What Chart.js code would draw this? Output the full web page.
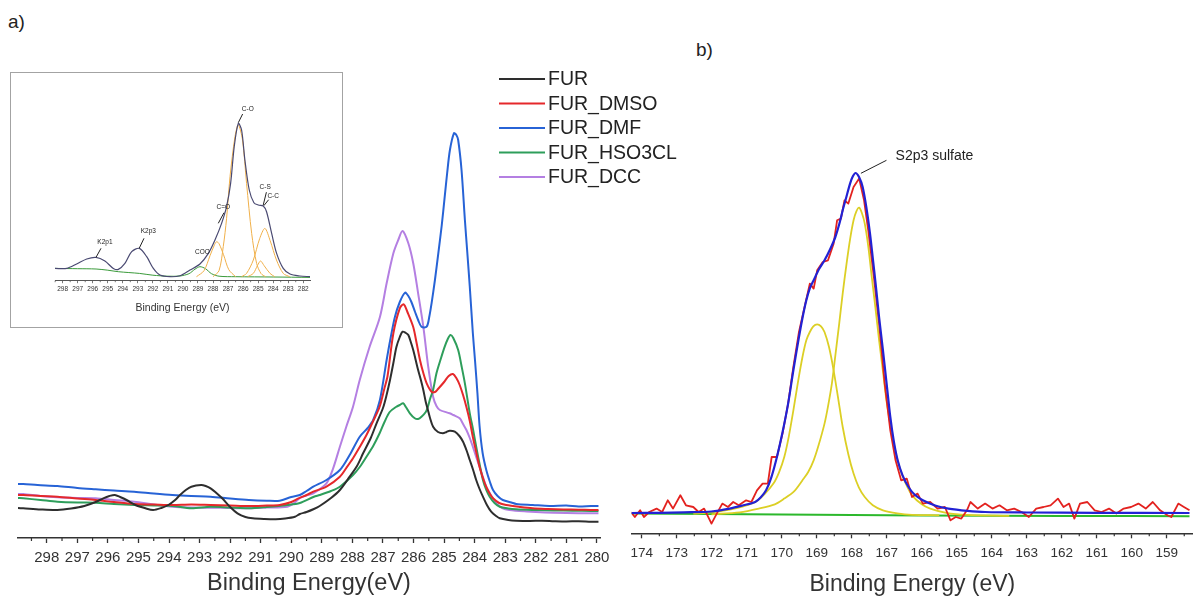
<!DOCTYPE html>
<html>
<head>
<meta charset="utf-8">
<script src="https://cdn.jsdelivr.net/npm/chart.js@4.4.1/dist/chart.umd.min.js"></script>
<style>
  body { margin: 0; background: #fff; }
  #wrap { position: relative; width: 1193px; height: 602px; overflow: hidden; background: #fff;
          font-family: "Liberation Sans", Arial, sans-serif; }
  canvas { position: absolute; }
  .tag { position: absolute; font-size: 19px; color: #222; }
  #insetBox { position: absolute; left: 10px; top: 72px; width: 333px; height: 256px;
              box-sizing: border-box; border: 1.3px solid #a3a3a3; background: #fff; }
</style>
</head>
<body>
<div id="wrap">
  <div class="tag" style="left:8px;top:11px">a)</div>
  <div class="tag" style="left:696px;top:39px">b)</div>
  <canvas id="chartA" width="700" height="602" style="left:0;top:0"></canvas>
  <canvas id="chartB" width="593" height="602" style="left:600px;top:0"></canvas>
  <div id="insetBox"></div>
  <canvas id="inset" width="333" height="256" style="left:10px;top:72px"></canvas>
</div>
<script>
// ---------- panel a : C1s of the five samples, [binding energy, intensity] ----------
const ticksA = [298, 297, 296, 295, 294, 293, 292, 291, 290, 289, 288, 287, 286, 285, 284, 283, 282, 281, 280];

const FUR = [[298.94,30],[298.77,29.7],[298.2,28.5],[297.65,28],[297.2,29.5],[296.77,32],[296.4,36],[296.15,39.7],
  [295.95,42],[295.77,43],[295.6,41],[295.39,38],[295.1,33],[294.77,29.7],[294.52,28],[294.25,30],[294.02,33],
  [293.8,38],[293.64,43],[293.45,48],[293.27,51.3],[292.95,53],[292.8,52],[292.64,49.7],[292.45,45],[292.26,39.7],
  [292.0,31],[291.76,24.7],[291.5,21],[291.26,19.7],[290.9,19],[290.51,18.7],[290.2,19.5],[289.88,21.3],[289.72,24],
  [289.5,26],[289.26,29],[289.07,32],[288.7,40],[288.41,48],[288.09,61.3],[287.85,72],[287.65,84.7],[287.4,100],
  [287.21,114.7],[287.0,130],[286.89,142],[286.77,158],[286.66,175],[286.56,191],[286.45,201],[286.36,206.3],
  [286.25,205],[286.17,203],[286.09,196],[286.01,188],[285.93,178],[285.85,168],[285.76,158],[285.68,148],
  [285.6,136],[285.53,128],[285.47,121],[285.36,111.3],[285.2,106],[285.04,104.7],[284.92,106],[284.82,107.3],
  [284.65,106.3],[284.5,102],[284.38,96.3],[284.27,88],[284.16,78],[284.05,68],[283.95,58],[283.84,49],
  [283.73,41.3],[283.6,33],[283.46,26.3],[283.3,22],[283.18,19.7],[282.9,18],[282.64,17.3],[282.2,17],
  [281.8,17.3],[281.4,16.8],[281.0,16.5],[280.6,16.8],[280.19,16.3],[279.95,16.3]];

const FUR_DMSO = [[298.94,43],[298.77,43],[298.2,42],[297.65,41.3],[297.0,39.5],[296.4,38],[295.8,36],[295.14,34],
  [294.5,33.5],[293.89,33],[293.27,33.5],[292.64,33],[292.0,32.5],[291.39,32],[290.8,32.5],[290.38,33],[290.0,36],
  [289.76,39.7],[289.5,43],[289.28,46.3],[288.85,51.3],[288.41,61.3],[288.2,70],[287.98,79.7],[287.76,91],
  [287.54,103],[287.32,117],[287.11,131.3],[286.95,150],[286.85,162],[286.66,204.7],[286.45,229.7],[286.32,233.7],
  [286.2,226],[286.01,211],[285.9,195],[285.79,178],[285.68,165],[285.57,154.7],[285.41,146.3],[285.3,146],
  [285.2,149],[285.0,156],[284.85,162],[284.71,164],[284.6,160],[284.49,153],[284.38,143],[284.27,131],
  [284.16,117],[284.06,101],[283.95,86],[283.84,71],[283.73,60],[283.62,51],[283.5,44],[283.4,39.7],[283.2,35],
  [282.97,33],[282.5,31],[282.1,29.7],[281.6,29],[281.1,28.5],[280.6,28.3],[280.19,28],[279.95,28]];

const FUR_DMF = [[298.94,54],[298.77,54],[298.3,53],[297.65,52],[297.0,50],[296.4,48.7],[295.8,47.5],[295.14,46.3],
  [294.5,44.5],[293.89,43],[293.27,42],[292.64,41.3],[292.0,39.5],[291.39,38],[290.8,37.3],[290.38,37.3],[290.0,41],
  [289.72,43],[289.5,47],[289.28,51.3],[288.85,58],[288.41,68],[288.09,83],[287.76,101.3],[287.5,110],[287.32,118],
  [287.1,138],[286.88,178],[286.75,200],[286.61,221],[286.45,236],[286.28,245.3],[286.17,242],[286.07,236],
  [285.95,226],[285.85,218],[285.74,211.3],[285.57,211.3],[285.48,222],[285.41,234.7],[285.3,258],[285.19,284.7],
  [285.08,312],[284.98,341.3],[284.9,365],[284.81,388],[284.68,404.7],[284.6,403],[284.54,398],[284.43,368],
  [284.32,318],[284.24,285],[284.16,251.3],[284.06,205],[283.99,178],[283.91,145],[283.84,112],[283.74,85],
  [283.62,68],[283.5,56],[283.4,48],[283.25,42],[283.08,38],[282.8,35.5],[282.64,34],[282.1,33],[281.55,32],
  [281.0,32.5],[280.6,31.5],[280.19,32],[279.95,32]];

const FUR_HSO3CL = [[298.94,40],[298.77,39.7],[298.2,38],[297.65,36.3],[297.0,35.5],[296.4,35.3],[295.8,34],
  [295.14,33],[294.5,32.5],[293.89,32],[293.27,29.7],[292.64,31.3],[292.0,30.5],[291.39,29.7],[290.8,31],
  [290.13,33],[289.72,35],[289.26,41.3],[289.07,43],[288.7,47],[288.41,51.3],[287.98,63],[287.76,71],[287.54,81.3],
  [287.32,92],[287.11,104.7],[286.95,116],[286.78,126],[286.56,131.3],[286.45,133],[286.34,134.7],[286.25,131],
  [286.12,124.7],[285.96,119.7],[285.85,119],[285.74,121.3],[285.6,126],[285.53,131.3],[285.45,140],[285.36,148],
  [285.25,164.7],[285.1,180],[284.98,191.3],[284.88,199],[284.79,203],[284.7,200],[284.54,188],[284.43,172],
  [284.32,154.7],[284.16,124.7],[284.05,108],[283.95,91.3],[283.84,74],[283.73,58],[283.62,48],[283.51,41.3],
  [283.35,35],[283.18,31.3],[282.9,29.5],[282.64,28.7],[282.0,28],[281.4,27.5],[280.8,27.3],[280.19,27],[279.95,27]];

const FUR_DCC = [[298.94,44],[298.77,44],[298.2,42],[297.65,40.7],[297.0,40],[296.4,39.7],[295.8,38],[295.14,36.3],
  [294.5,33.5],[293.89,31.3],[293.27,30.5],[292.64,30.3],[292.0,30],[291.39,29.7],[290.8,30.5],[290.13,31.3],
  [289.9,35],[289.72,40],[289.5,42.5],[289.28,44.7],[288.85,54.7],[288.63,69.7],[288.41,91.3],[288.2,111.3],
  [287.98,131.3],[287.76,158],[287.45,190],[287.1,221],[286.88,254.7],[286.66,284.7],[286.5,298],[286.36,307],
  [286.17,294.7],[286.01,274.7],[285.85,244.7],[285.68,211.3],[285.52,171.3],[285.36,141.3],[285.25,132],
  [285.14,128],[284.82,124.7],[284.7,123],[284.49,119.7],[284.38,114],[284.27,108],[284.16,100],[284.06,91.3],
  [283.95,81],[283.84,71.3],[283.73,61],[283.62,51.3],[283.45,42],[283.29,34.7],[283.1,30],[282.86,28],
  [282.3,26.5],[281.7,25.5],[281.0,25],[280.19,24.7],[279.95,24.7]];

// ---------- inset : fitted C1s / K2p ----------
const ticksInset = [298, 297, 296, 295, 294, 293, 292, 291, 290, 289, 288, 287, 286, 285, 284, 283, 282];

const insetEnvelope = [[298.51,12.3],[297.73,12.3],[297.07,16.7],[296.4,21.7],[295.78,23.3],[295.19,19.7],
  [294.63,12.3],[294.3,11.3],[293.86,17.3],[293.41,29],[292.9,32.3],[292.41,24],[291.97,12.3],[291.53,5.7],
  [290.86,4],[290.2,5],[289.53,10.7],[288.87,16.7],[288.31,27.3],[287.87,40.7],[287.43,57.3],[287.1,74],
  [286.83,97.3],[286.59,134],[286.32,157.3],[286.1,150.7],[285.88,120.7],[285.59,90.7],[285.28,78],[284.99,75.7],
  [284.66,74.7],[284.44,69],[284.1,47.3],[283.77,27.3],[283.33,12.3],[282.88,6.7],[282.22,4.7],[281.55,4]];
const insetBackground = [[298.51,12.3],[297,12],[295.78,11.7],[295,10.5],[294.3,9],[292.9,7.3],[292,5.5],[291,4.5],
  [290.2,4.7],[289.6,7],[289.2,11.5],[288.87,14],[288.5,12],[288.1,7],[287.6,4.5],[286.5,4],[284,3.7],[281.55,3.3]];
const insetCdO = [[289.1,4],[288.6,10],[288.2,25],[287.9,36],[287.76,39],[287.6,37],[287.3,26],[286.95,11],[286.5,4]];
const insetCO = [[288.0,4],[287.6,10],[287.32,34],[287.1,62],[286.87,104],[286.54,144],[286.32,155.7],[286.04,140.7],
  [285.77,97.3],[285.43,47.3],[285.1,17.3],[284.8,7],[284.5,4]];
const insetCC = [[286.1,4],[285.77,7.3],[285.32,20.7],[284.9,42],[284.55,52.3],[284.2,40],[283.78,20.7],[283.33,7.3],[282.9,4]];
const insetCS = [[285.7,4],[285.32,7.3],[285.05,15],[284.84,19.7],[284.6,15],[284.21,7.3],[283.9,4]];

// ---------- panel b : S2p ----------
const ticksB = [174, 173, 172, 171, 170, 169, 168, 167, 166, 165, 164, 163, 162, 161, 160, 159];

const s2pData = [[174.31,21.3],[174.2,16.3],[174.05,23],[173.94,16.3],[173.79,21.3],[173.58,24.7],[173.42,21.3],
  [173.26,33],[173.11,24.7],[172.9,38],[172.74,28],[172.53,26.3],[172.38,21.3],[172.22,24.7],[172.01,9.7],
  [171.86,19.7],[171.7,29.7],[171.54,26.3],[171.39,31.3],[171.23,28],[171.02,33],[170.87,31.3],[170.71,43],
  [170.55,49.7],[170.4,49.7],[170.29,76.3],[170.14,76.3],[169.98,99.7],[169.82,129.7],[169.67,166.3],
  [169.51,201.3],[169.35,226.3],[169.2,249.7],[169.09,244.7],[168.99,263],[168.83,271.3],[168.68,273],
  [168.52,289.7],[168.42,313],[168.31,314.7],[168.21,333],[168.1,329.7],[167.95,346.3],[167.79,354.7],
  [167.65,333],[167.53,303],[167.37,256.3],[167.22,209.7],[167.06,149.7],[166.9,103],[166.75,73],[166.59,53],
  [166.43,54.7],[166.28,36.3],[166.12,39.7],[165.97,29.7],[165.76,31.3],[165.55,24.7],[165.34,26.3],[165.18,13],
  [165.03,16.3],[164.87,14.7],[164.71,23],[164.61,31.3],[164.4,24.7],[164.19,29.7],[163.98,24.7],[163.78,28],
  [163.57,23],[163.36,24.7],[163.15,21.3],[162.94,16.3],[162.73,24.7],[162.52,26.3],[162.32,28],[162.11,34.7],
  [161.95,26.3],[161.79,29.7],[161.64,14.7],[161.48,29.7],[161.27,31.3],[161.06,23],[160.86,21.3],[160.65,24.7],
  [160.44,19.7],[160.23,24.7],[160.02,26.3],[159.81,29.7],[159.6,24.7],[159.4,31.3],[159.19,23],[158.98,18],
  [158.87,16.3],[158.67,29.7],[158.51,26.3],[158.35,23]];

const s2pFit = [[174.31,20.3],[173.5,20.5],[172.8,21],[172.01,21.8],[171.49,24.7],[171.1,28],[170.76,31.3],
  [170.6,36],[170.45,43],[170.3,56],[170.14,76.3],[169.98,101],[169.82,129.7],[169.67,163],[169.51,196.3],
  [169.4,217],[169.3,233],[169.2,245],[169.09,253],[168.94,264],[168.78,273],[168.62,284],[168.47,296.3],
  [168.36,309],[168.26,323],[168.15,337],[168.05,349.7],[167.97,357],[167.89,360.3],[167.79,356],[167.69,346.3],
  [167.58,325],[167.48,299.7],[167.4,275],[167.32,249.7],[167.22,216],[167.11,183],[167.0,148],[166.9,116.3],
  [166.8,92],[166.69,73],[166.55,58],[166.38,46.3],[166.2,38.5],[165.97,33],[165.6,27.5],[165.24,24.7],
  [164.7,22.5],[164.19,21.3],[163,20.8],[161,20.5],[158.35,20.3]];

const s2pPeak1 = [[172.01,19],[171.2,21],[170.66,24.7],[170.2,29],[169.93,34.7],[169.65,42],[169.41,53],[169.25,61],
  [169.09,73],[168.95,88],[168.78,109.7],[168.68,127],[168.57,149.7],[168.47,178],[168.36,209.7],[168.26,240],
  [168.15,269.7],[168.05,294],[167.95,313],[167.87,322],[167.79,325.7],[167.71,320],[167.63,309.7],[167.53,287],
  [167.43,256.3],[167.32,224],[167.22,193],[167.11,162],[167.01,133],[166.9,109],[166.8,89.7],[166.67,70],
  [166.54,56.3],[166.4,45.5],[166.28,38],[166.0,29],[165.76,24.7],[165.3,20.5],[164.71,18.5],[163.5,17.5]];

const s2pPeak2 = [[172.53,19.7],[172.0,21],[171.49,23.7],[171.1,27],[170.76,31.3],[170.5,39],[170.24,49.7],
  [170.08,61],[169.93,76.3],[169.8,97],[169.67,123],[169.54,151],[169.41,176.3],[169.3,193],[169.2,201.3],
  [169.1,207],[168.99,209],[168.88,207],[168.78,201.3],[168.65,186],[168.52,163],[168.39,135],[168.26,106.3],
  [168.1,79],[167.95,59.7],[167.8,46],[167.63,36.3],[167.4,28],[167.11,23],[166.7,20],[166.28,18.5],[165.5,18]];

const s2pBase = [[174.31,19.7],[172,19.2],[170,18.8],[168,18.3],[166,17.9],[164,17.6],[162,17.4],[160,17.2],[158.35,17]];

// ---------- helpers ----------
Chart.defaults.font.family = '"Liberation Sans", Arial, Helvetica, sans-serif';
Chart.defaults.color = '#333';

const pts = arr => arr.map(([x, y]) => ({ x, y }));

function line(label, data, color, width, tension) {
  return { label, data: pts(data), borderColor: color, backgroundColor: color, borderWidth: width,
           pointRadius: 0, tension, fill: false, showLine: true, borderJoinStyle: 'round' };
}

function xAxis(o) {
  return {
    type: 'linear', reverse: true, min: o.min, max: o.max,
    afterBuildTicks: s => { s.ticks = o.ticks.map(v => ({ value: v })); },
    afterFit: s => { s.height = o.height; },
    ticks: { autoSkip: false, maxRotation: 0, padding: o.pad, color: '#333',
             font: { size: o.tickSize }, callback: v => String(v) },
    grid: { drawOnChartArea: false, tickLength: o.tickLen, tickColor: o.axisColor, tickWidth: o.tickWidth },
    border: { display: true, color: o.axisColor, width: o.axisWidth },
    title: { display: true, text: o.title, color: '#333', font: { size: o.titleSize },
             padding: { top: 0, bottom: o.titlePad } }
  };
}

// short ticks half way between the labelled ones
function minorTicks(step, len, color, width) {
  return {
    id: 'minorTicks',
    afterDraw(chart) {
      const s = chart.scales.x, ctx = chart.ctx;
      ctx.save();
      ctx.strokeStyle = color;
      ctx.lineWidth = width;
      for (let v = Math.ceil(s.min / step) * step; v <= s.max; v += step) {
        if (Math.abs(v - Math.round(v)) < 1e-6) continue;
        const px = s.getPixelForValue(v);
        ctx.beginPath();
        ctx.moveTo(px, s.top);
        ctx.lineTo(px, s.top + len);
        ctx.stroke();
      }
      ctx.restore();
    }
  };
}

// text labels with leader lines, placed in data coordinates
function notes(list, font, align) {
  return {
    id: 'notes',
    afterDatasetsDraw(chart) {
      const { x, y } = chart.scales, ctx = chart.ctx;
      ctx.save();
      ctx.font = font;
      ctx.fillStyle = '#222';
      ctx.strokeStyle = '#222';
      ctx.lineWidth = 1;
      ctx.textAlign = align;
      ctx.textBaseline = 'middle';
      list.forEach(n => {
        if (n.line) {
          ctx.beginPath();
          ctx.moveTo(x.getPixelForValue(n.line[0]), y.getPixelForValue(n.line[1]));
          ctx.lineTo(x.getPixelForValue(n.line[2]), y.getPixelForValue(n.line[3]));
          ctx.stroke();
        }
        ctx.fillText(n.text, x.getPixelForValue(n.at[0]), y.getPixelForValue(n.at[1]));
      });
      ctx.restore();
    }
  };
}

const legendA = {
  id: 'legendA',
  afterDraw(chart) {
    const ctx = chart.ctx;
    ctx.save();
    ctx.font = '19.5px "Liberation Sans", Arial, sans-serif';
    ctx.textBaseline = 'middle';
    chart.data.datasets.forEach((ds, i) => {
      const y = 79 + i * 24.5;
      ctx.strokeStyle = ds.borderColor;
      ctx.lineWidth = 1.8;
      ctx.beginPath();
      ctx.moveTo(499, y);
      ctx.lineTo(545, y);
      ctx.stroke();
      ctx.fillStyle = '#222';
      ctx.fillText(ds.label, 548, y + 1);
    });
    ctx.restore();
  }
};

const baseOpts = (padding, xCfg, yMax) => ({
  responsive: false, animation: false, devicePixelRatio: 1,
  layout: { padding },
  plugins: { legend: { display: false }, tooltip: { enabled: false } },
  scales: { x: xAxis(xCfg), y: { display: false, min: 0, max: yMax } }
});

// ---------- panel a ----------
new Chart(document.getElementById('chartA'), {
  type: 'scatter',
  data: { datasets: [
    line('FUR', FUR, '#2e2e2e', 2, 0.3),
    line('FUR_DMSO', FUR_DMSO, '#e5282b', 2, 0.3),
    line('FUR_DMF', FUR_DMF, '#2763d6', 2, 0.3),
    line('FUR_HSO3CL', FUR_HSO3CL, '#2e9e5b', 2, 0.3),
    line('FUR_DCC', FUR_DCC, '#b47fe2', 2, 0.3)
  ] },
  options: baseOpts({ left: 18, right: 100, top: 40, bottom: 0 }, {
    min: 279.9, max: 298.94, ticks: ticksA, height: 64, pad: 6, tickSize: 15, tickLen: 5,
    axisColor: '#333', tickWidth: 1.3, axisWidth: 1.6, title: 'Binding Energy(eV)', titleSize: 23.5, titlePad: 4
  }, 498),
  plugins: [minorTicks(0.5, 3, '#333', 1.2), legendA]
});

// ---------- inset ----------
new Chart(document.getElementById('inset'), {
  type: 'scatter',
  data: { datasets: [
    line('envelope', insetEnvelope, '#4a4a72', 1.2, 0.3),
    line('C-O', insetCO, '#f0b04a', 1, 0.3),
    line('C=O', insetCdO, '#f0b04a', 1, 0.3),
    line('C-C', insetCC, '#f0b04a', 1, 0.3),
    line('C-S', insetCS, '#f0b04a', 1, 0.3),
    line('background', insetBackground, '#3a9a3a', 1, 0.3)
  ] },
  options: baseOpts({ left: 45, right: 33, top: 18, bottom: 0 }, {
    min: 281.55, max: 298.51, ticks: ticksInset, height: 47.3, pad: 2, tickSize: 6.5, tickLen: 2.5,
    axisColor: '#555', tickWidth: 0.8, axisWidth: 1, title: 'Binding Energy (eV)', titleSize: 10.5, titlePad: 14
  }, 190.7),
  plugins: [minorTicks(0.5, 1.5, '#555', 0.8), notes([
    { text: 'K2p1', at: [295.19, 38.7], line: [295.45, 32.4, 295.78, 23.4] },
    { text: 'K2p3', at: [292.3, 49], line: [292.59, 42.4, 292.91, 32.4] },
    { text: 'COO', at: [288.7, 28] },
    { text: 'C=O', at: [287.32, 73], line: [287.27, 68, 287.65, 57.4] },
    { text: 'C-O', at: [285.69, 171.4], line: [286.03, 166.7, 286.32, 158] },
    { text: 'C-S', at: [284.53, 93], line: [284.45, 88.5, 284.66, 75.7] },
    { text: 'C-C', at: [284.0, 84], line: [284.3, 81, 284.62, 75] }
  ], '6.5px "Liberation Sans", Arial, sans-serif', 'center')]
});

// ---------- panel b ----------
new Chart(document.getElementById('chartB'), {
  type: 'scatter',
  data: { datasets: [
    line('fit', s2pFit, '#2222d4', 2.2, 0.3),
    line('S2p', s2pData, '#e3221f', 1.8, 0),
    line('S2p3 sulfate', s2pPeak1, '#dccf25', 1.8, 0.3),
    line('S2p1 sulfate', s2pPeak2, '#dccf25', 1.8, 0.3),
    line('background', s2pBase, '#2cb82c', 2, 0)
  ] },
  options: baseOpts({ left: 31.7, right: 0, top: 140, bottom: 0 }, {
    min: 158.25, max: 174.29, ticks: ticksB, height: 68.7, pad: 7, tickSize: 13.5, tickLen: 5,
    axisColor: '#333', tickWidth: 1.3, axisWidth: 1.6, title: 'Binding Energy (eV)', titleSize: 23, titlePad: 4
  }, 393.3),
  plugins: [minorTicks(0.5, 3, '#333', 1.2), notes([
    { text: 'S2p3 sulfate', at: [166.75, 377], line: [167.74, 360, 167.01, 373] }
  ], '14px "Liberation Sans", Arial, sans-serif', 'left')]
});
</script>
</body>
</html>
